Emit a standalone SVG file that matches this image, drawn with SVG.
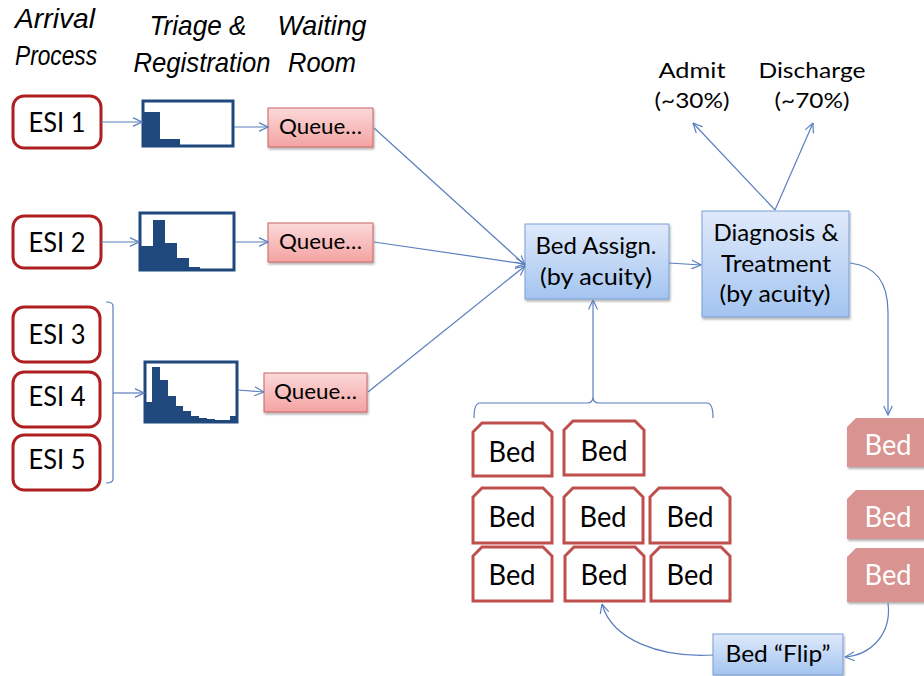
<svg xmlns="http://www.w3.org/2000/svg" width="924" height="676" viewBox="0 0 924 676">
<defs>
<linearGradient id="gPink" x1="0" y1="0" x2="0" y2="1"><stop offset="0" stop-color="#fcd9d9"/><stop offset="1" stop-color="#f3a3a2"/></linearGradient>
<linearGradient id="gBlue" x1="0" y1="0" x2="0" y2="1"><stop offset="0" stop-color="#dfeafb"/><stop offset="1" stop-color="#a3c4f0"/></linearGradient>
<marker id="ah" viewBox="0 0 10 10" refX="9.5" refY="5" markerWidth="10" markerHeight="10" markerUnits="userSpaceOnUse" orient="auto"><path d="M0,0.5 L9.5,5 L0,9.5" fill="none" stroke="#5a7fbf" stroke-width="1.2"/></marker>
<filter id="sh" x="-10%" y="-10%" width="130%" height="140%"><feDropShadow dx="1" dy="2" stdDeviation="1.2" flood-color="#000" flood-opacity="0.3"/></filter>
</defs>
<style>
.hdr{font-family:"Liberation Sans",Arial,sans-serif;font-style:italic;font-size:28px;fill:#000;text-anchor:middle}
.esi rect{fill:#fff;stroke:#b01f1f;stroke-width:3}
.esi text{font-family:Lato,"Liberation Sans",sans-serif;font-size:27px;fill:#000;text-anchor:middle}
.hist rect.f{fill:#fff;stroke:#1f497d;stroke-width:3}
.hist .b{fill:#1f497d}
.q rect{fill:url(#gPink);stroke:#c76565;stroke-width:1;filter:url(#sh)}
.q text{font-family:Lato,"Liberation Sans",sans-serif;font-size:21px;fill:#000;text-anchor:middle}
.bl rect{fill:url(#gBlue);stroke:#7a9fd6;stroke-width:1;filter:url(#sh)}
.bl text{font-family:Lato,"Liberation Sans",sans-serif;font-size:23px;fill:#000;text-anchor:middle}
.out text{font-family:Lato,"Liberation Sans",sans-serif;font-size:22px;fill:#000;text-anchor:middle}
.bed path{fill:#fff;stroke:#bf4f4d;stroke-width:3}
.bed text{font-family:Lato,"Liberation Sans",sans-serif;font-size:28px;fill:#000;text-anchor:middle}
.pbed path{fill:#d99391;filter:url(#sh)}
.pbed text{font-family:Lato,"Liberation Sans",sans-serif;font-size:28px;fill:#fff;text-anchor:middle}
.c path,.c line{fill:none;stroke:#5a7fbf;stroke-width:1.2}
</style>
<rect width="924" height="676" fill="#fff"/>

<g id="headers">
<text class="hdr" x="55" y="28" textLength="80" lengthAdjust="spacingAndGlyphs">Arrival</text>
<text class="hdr" x="56" y="65" textLength="82" lengthAdjust="spacingAndGlyphs">Process</text>
<text class="hdr" x="198" y="35" textLength="97" lengthAdjust="spacingAndGlyphs">Triage &amp;</text>
<text class="hdr" x="202" y="72" textLength="137" lengthAdjust="spacingAndGlyphs">Registration</text>
<text class="hdr" x="322" y="35" textLength="89" lengthAdjust="spacingAndGlyphs">Waiting</text>
<text class="hdr" x="322" y="72" textLength="68" lengthAdjust="spacingAndGlyphs">Room</text>
</g>

<g id="esi1" class="esi"><rect x="13" y="96" width="88" height="52" rx="11"/><text x="57" y="132" textLength="57" lengthAdjust="spacingAndGlyphs">ESI 1</text></g>
<g id="esi2" class="esi"><rect x="13" y="216" width="88" height="52" rx="11"/><text x="57" y="252" textLength="57" lengthAdjust="spacingAndGlyphs">ESI 2</text></g>
<g id="esi3" class="esi"><rect x="13" y="307" width="87" height="55" rx="11"/><text x="57" y="344" textLength="57" lengthAdjust="spacingAndGlyphs">ESI 3</text></g>
<g id="esi4" class="esi"><rect x="13" y="372" width="87" height="55" rx="11"/><text x="57" y="406" textLength="57" lengthAdjust="spacingAndGlyphs">ESI 4</text></g>
<g id="esi5" class="esi"><rect x="13" y="435" width="87" height="55" rx="11"/><text x="57" y="469" textLength="57" lengthAdjust="spacingAndGlyphs">ESI 5</text></g>

<g id="hist1" class="hist">
<rect class="f" x="143" y="101" width="90" height="45"/>
<rect class="b" x="143" y="112" width="17" height="34"/>
<rect class="b" x="160" y="139" width="20" height="7"/>
</g>
<g id="hist2" class="hist">
<rect class="f" x="140" y="213" width="94" height="57"/>
<path class="b" d="M140,246 H153 V220 H165 V243 H177 V258 H189 V267 H200 V269 H212 V270 H140 Z"/>
</g>
<g id="hist3" class="hist">
<rect class="f" x="145" y="362" width="92" height="60"/>
<path class="b" d="M145,402 H152 V367 H160 V380 H168 V396 H176 V406 H183 V411 H191 V416 H199 V418 H207 V419 H215 V420 H230 V416 H237 V422 H145 Z"/>
</g>

<g id="queue1" class="q"><rect x="268" y="108" width="105" height="39"/><text x="320.5" y="134" textLength="83" lengthAdjust="spacingAndGlyphs">Queue…</text></g>
<g id="queue2" class="q"><rect x="268" y="223" width="105" height="39"/><text x="320.5" y="249" textLength="83" lengthAdjust="spacingAndGlyphs">Queue…</text></g>
<g id="queue3" class="q"><rect x="264" y="373" width="103" height="39"/><text x="315.5" y="399" textLength="83" lengthAdjust="spacingAndGlyphs">Queue…</text></g>

<g id="bedassign" class="bl"><rect x="525" y="224" width="144" height="75"/>
<text x="596" y="254" textLength="121" lengthAdjust="spacingAndGlyphs">Bed Assign.</text>
<text x="596" y="285" textLength="112" lengthAdjust="spacingAndGlyphs">(by acuity)</text></g>

<g id="diagnosis" class="bl"><rect x="702" y="211" width="147" height="106"/>
<text x="776" y="241" textLength="125" lengthAdjust="spacingAndGlyphs">Diagnosis &amp;</text>
<text x="776" y="272" textLength="110" lengthAdjust="spacingAndGlyphs">Treatment</text>
<text x="775" y="302" textLength="111" lengthAdjust="spacingAndGlyphs">(by acuity)</text></g>

<g id="admit" class="out"><text x="692" y="78" textLength="67" lengthAdjust="spacingAndGlyphs">Admit</text><text x="692" y="108" textLength="75" lengthAdjust="spacingAndGlyphs">(~30%)</text></g>
<g id="discharge" class="out"><text x="812" y="78" textLength="107" lengthAdjust="spacingAndGlyphs">Discharge</text><text x="812" y="108" textLength="75" lengthAdjust="spacingAndGlyphs">(~70%)</text></g>

<g id="beds">
<g id="bed1" class="bed"><path d="M482,423 H543 L552,432 V476 H473 V432 Z"/><text x="512" y="462" textLength="47" lengthAdjust="spacingAndGlyphs">Bed</text></g>
<g id="bed2" class="bed"><path d="M573,421 H635 L644,430 V475 H564 V430 Z"/><text x="604" y="461" textLength="47" lengthAdjust="spacingAndGlyphs">Bed</text></g>
<g id="bed3" class="bed"><path d="M482,488 H543 L552,497 V543 H473 V497 Z"/><text x="512" y="527" textLength="47" lengthAdjust="spacingAndGlyphs">Bed</text></g>
<g id="bed4" class="bed"><path d="M573,488 H634 L643,497 V543 H564 V497 Z"/><text x="603" y="527" textLength="47" lengthAdjust="spacingAndGlyphs">Bed</text></g>
<g id="bed5" class="bed"><path d="M659,488 H721 L730,497 V543 H650 V497 Z"/><text x="690" y="527" textLength="47" lengthAdjust="spacingAndGlyphs">Bed</text></g>
<g id="bed6" class="bed"><path d="M482,547 H543 L552,556 V601 H473 V556 Z"/><text x="512" y="585" textLength="47" lengthAdjust="spacingAndGlyphs">Bed</text></g>
<g id="bed7" class="bed"><path d="M574,547 H635 L644,556 V601 H565 V556 Z"/><text x="604" y="585" textLength="47" lengthAdjust="spacingAndGlyphs">Bed</text></g>
<g id="bed8" class="bed"><path d="M660,547 H721 L730,556 V601 H651 V556 Z"/><text x="690" y="585" textLength="47" lengthAdjust="spacingAndGlyphs">Bed</text></g>
</g>

<g id="occupied">
<g id="pbed1" class="pbed"><path d="M856,418 H935 V467 H847 V427 Z"/><text x="888" y="455" textLength="47" lengthAdjust="spacingAndGlyphs">Bed</text></g>
<g id="pbed2" class="pbed"><path d="M856,490 H935 V539 H847 V499 Z"/><text x="888" y="527" textLength="47" lengthAdjust="spacingAndGlyphs">Bed</text></g>
<g id="pbed3" class="pbed"><path d="M856,548 H935 V602 H847 V557 Z"/><text x="888" y="585" textLength="47" lengthAdjust="spacingAndGlyphs">Bed</text></g>
</g>

<g id="bedflip" class="bl"><rect x="713" y="634" width="130" height="41"/><text x="778" y="662" textLength="105" lengthAdjust="spacingAndGlyphs">Bed “Flip”</text></g>

<g id="connectors" class="c">
<line x1="101" y1="122" x2="142" y2="122" marker-end="url(#ah)"/>
<line x1="234" y1="127" x2="268" y2="127" marker-end="url(#ah)"/>
<line x1="101" y1="242" x2="139" y2="242" marker-end="url(#ah)"/>
<line x1="235" y1="242" x2="268" y2="242" marker-end="url(#ah)"/>
<path d="M106,302 Q113,302 113,306 V479 Q113,483 106,483"/>
<line x1="113" y1="393" x2="144" y2="393" marker-end="url(#ah)"/>
<line x1="238" y1="390" x2="264" y2="392" marker-end="url(#ah)"/>
<line x1="374" y1="128" x2="525" y2="265" marker-end="url(#ah)"/>
<line x1="374" y1="242" x2="525" y2="264" marker-end="url(#ah)"/>
<line x1="368" y1="392" x2="525" y2="266" marker-end="url(#ah)"/>
<line x1="669" y1="263" x2="701" y2="265" marker-end="url(#ah)"/>
<line x1="775" y1="210" x2="693" y2="123" marker-end="url(#ah)"/>
<line x1="775" y1="210" x2="813" y2="123" marker-end="url(#ah)"/>
<path d="M474,418 Q474,403 480,403 H587 Q593,403 593,397 Q593,403 599,403 H707 Q713,403 713,418"/>
<line x1="593" y1="397" x2="593" y2="300" marker-end="url(#ah)"/>
<path d="M850,263 C878,266 888,285 888,312 V415" marker-end="url(#ah)"/>
<path d="M888,603 C892,635 870,655 845,657" marker-end="url(#ah)"/>
<path d="M713,655 C660,658 612,640 602,604" marker-end="url(#ah)"/>
</g>
</svg>
